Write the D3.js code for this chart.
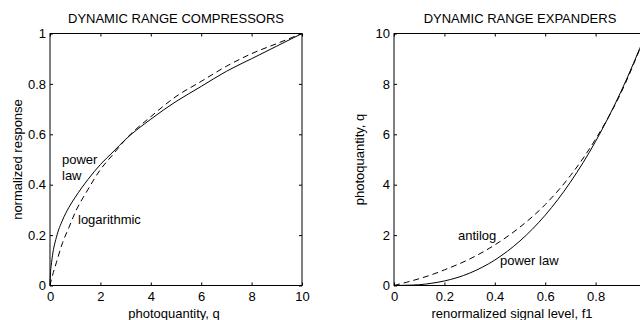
<!DOCTYPE html>
<html>
<head>
<meta charset="utf-8">
<script src="https://cdn.jsdelivr.net/npm/d3@7"></script>
<style>
  body { margin: 0; background: #fff; }
  svg { display: block; font-family: "Liberation Sans", Arial, Helvetica, sans-serif; }
</style>
</head>
<body>
<svg id="chart" width="640" height="320"></svg>
<script>
// left panel: compressors (response vs photoquantity)
const compQ = [0, 0.02, 0.05, 0.1, 0.25, 0.5, 0.75, 1, 1.5, 2, 2.5, 3, 4, 5, 6, 7, 8, 9, 10];
const compPowerLaw = [0, 0.05, 0.08, 0.12, 0.19, 0.26, 0.31, 0.35, 0.42, 0.48, 0.53, 0.58, 0.66, 0.73, 0.79, 0.85, 0.9, 0.95, 1];
const compLogarithmic = [0, 0.01, 0.02, 0.04, 0.09, 0.17, 0.23, 0.29, 0.38, 0.46, 0.52, 0.58, 0.67, 0.75, 0.81, 0.87, 0.92, 0.96, 1];
const compXTicks = [0, 2, 4, 6, 8, 10];
const compYTicks = [0, 0.2, 0.4, 0.6, 0.8, 1];

// right panel: expanders (photoquantity vs signal level)
const expF = [0, 0.05, 0.1, 0.15, 0.2, 0.3, 0.4, 0.5, 0.6, 0.7, 0.8, 0.9, 1];
const expPowerLaw = [0, 0.01, 0.03, 0.09, 0.18, 0.49, 1.01, 1.77, 2.79, 4.1, 5.72, 7.68, 10];
const expAntilog = [0, 0.13, 0.27, 0.43, 0.62, 1.05, 1.61, 2.32, 3.21, 4.36, 5.81, 7.63, 10];
const expXTicks = [0, 0.2, 0.4, 0.6, 0.8, 1];
const expYTicks = [0, 2, 4, 6, 8, 10];

const svg = d3.select('#chart');
const fontSize = 13;
const pageWidth = 640;

function drawPanel(opts) {
  const x = d3.scaleLinear().domain(opts.xDomain).range([opts.left, opts.right]);
  const y = d3.scaleLinear().domain(opts.yDomain).range([opts.bottom, opts.top]);
  const g = svg.append('g');

  // frame
  g.append('rect')
    .attr('x', opts.left)
    .attr('y', opts.top)
    .attr('width', opts.right - opts.left)
    .attr('height', opts.bottom - opts.top)
    .attr('fill', 'none')
    .attr('stroke', '#000')
    .attr('stroke-width', 1);

  // labels whose tick falls off the page are left blank (the panel runs past the edge)
  const fmt = d3.format('~g');
  const xFmt = d => (x(d) + 4 > pageWidth ? '' : fmt(d));

  // bottom + left axes (ticks point inward)
  const xAxis = g.append('g')
    .attr('transform', `translate(0,${opts.bottom})`)
    .call(d3.axisBottom(x).tickValues(opts.xTicks).tickFormat(xFmt)
      .tickSizeInner(-3).tickSizeOuter(0).tickPadding(6));
  const yAxis = g.append('g')
    .attr('transform', `translate(${opts.left},0)`)
    .call(d3.axisLeft(y).tickValues(opts.yTicks).tickFormat(fmt)
      .tickSizeInner(-3).tickSizeOuter(0).tickPadding(4));

  // top + right tick marks, no labels
  const xTop = g.append('g')
    .attr('transform', `translate(0,${opts.top})`)
    .call(d3.axisTop(x).tickValues(opts.xTicks).tickFormat('')
      .tickSizeInner(-3).tickSizeOuter(0));
  const yRight = g.append('g')
    .attr('transform', `translate(${opts.right},0)`)
    .call(d3.axisRight(y).tickValues(opts.yTicks).tickFormat('')
      .tickSizeInner(-3).tickSizeOuter(0));

  [xAxis, yAxis, xTop, yRight].forEach(a => {
    a.select('.domain').remove();
    a.attr('font-family', null).attr('font-size', null);
    a.selectAll('text').attr('font-size', fontSize).attr('fill', '#000');
  });

  // title
  g.append('text')
    .attr('x', (opts.left + opts.right) / 2)
    .attr('y', 23)
    .attr('text-anchor', 'middle')
    .attr('font-size', fontSize)
    .text(opts.title);

  // axis labels
  g.append('text')
    .attr('x', opts.xLabelX)
    .attr('y', 318)
    .attr('text-anchor', 'middle')
    .attr('font-size', fontSize)
    .text(opts.xLabel);

  g.append('text')
    .attr('transform', `translate(${opts.yLabelX},${(opts.top + opts.bottom) / 2}) rotate(-90)`)
    .attr('text-anchor', 'middle')
    .attr('font-size', fontSize)
    .text(opts.yLabel);

  // curves
  opts.series.forEach(s => {
    const pts = opts.xs.map((v, i) => [v, s.values[i]]);
    g.append('path')
      .datum(pts)
      .attr('fill', 'none')
      .attr('stroke', '#000')
      .attr('stroke-width', 1)
      .attr('stroke-dasharray', s.dashed ? '6,4' : null)
      .attr('d', d3.line()
        .x(d => x(d[0]))
        .y(d => y(d[1]))
        .curve(d3.curveMonotoneX));
  });

  // in-plot labels
  opts.notes.forEach(n => {
    n.lines.forEach((t, i) => {
      g.append('text')
        .attr('x', n.x)
        .attr('y', n.y + i * 16)
        .attr('font-size', fontSize)
        .text(t);
    });
  });
}

drawPanel({
  left: 50, right: 302, top: 33.5, bottom: 285.5,
  xDomain: [0, 10], yDomain: [0, 1],
  xTicks: compXTicks, yTicks: compYTicks,
  title: 'DYNAMIC RANGE COMPRESSORS',
  xLabel: 'photoquantity, q', xLabelX: 174,
  yLabel: 'normalized response', yLabelX: 22,
  xs: compQ,
  series: [
    { values: compPowerLaw, dashed: false },
    { values: compLogarithmic, dashed: true }
  ],
  notes: [
    { x: 62, y: 164, lines: ['power', 'law'] },
    { x: 78, y: 224, lines: ['logarithmic'] }
  ]
});

drawPanel({
  left: 394, right: 646, top: 33.5, bottom: 285.5,
  xDomain: [0, 1], yDomain: [0, 10],
  xTicks: expXTicks, yTicks: expYTicks,
  title: 'DYNAMIC RANGE EXPANDERS',
  xLabel: 'renormalized signal level, f1', xLabelX: 512,
  yLabel: 'photoquantity, q', yLabelX: 364,
  xs: expF,
  series: [
    { values: expPowerLaw, dashed: false },
    { values: expAntilog, dashed: true }
  ],
  notes: [
    { x: 458, y: 240, lines: ['antilog'] },
    { x: 500, y: 265, lines: ['power law'] }
  ]
});
</script>
</body>
</html>
